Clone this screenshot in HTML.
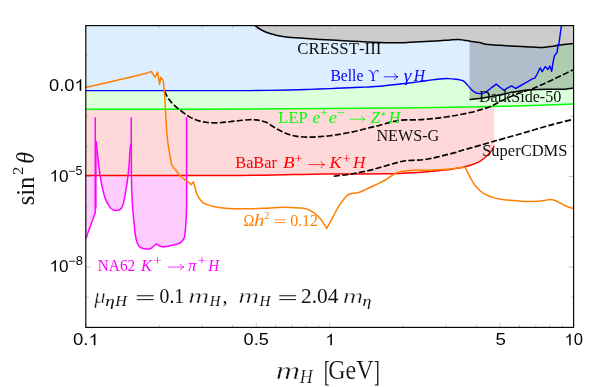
<!DOCTYPE html>
<html><head><meta charset="utf-8"><title>plot</title>
<style>
html,body{margin:0;padding:0;background:#fff;}
svg{display:block;}
</style></head><body>
<svg width="599" height="387" viewBox="0 0 599 387">
<rect x="0" y="0" width="599" height="387" fill="#fff"/>
<!-- fills -->
<path d="M85.80 109.30 L200.00 109.20 L330.00 108.60 L420.00 107.70 L494.00 106.60 L540.00 105.20 L573.60 104.00 L573.60 25.60 L85.80 25.60Z" fill="#dcffdc"/>
<path d="M85.80 90.60 C96.50 90.60 127.63 90.60 150.00 90.60 C172.37 90.60 203.33 90.60 220.00 90.60 C236.67 90.60 238.33 90.70 250.00 90.60 C261.67 90.50 280.00 90.20 290.00 90.00 C300.00 89.80 303.33 89.63 310.00 89.40 C316.67 89.17 323.33 88.87 330.00 88.60 C336.67 88.33 344.17 88.05 350.00 87.80 C355.83 87.55 360.00 87.37 365.00 87.10 C370.00 86.83 374.17 86.72 380.00 86.20 C385.83 85.68 393.33 84.77 400.00 84.00 C406.67 83.23 415.00 82.25 420.00 81.60 C425.00 80.95 426.67 80.53 430.00 80.10 C433.33 79.67 437.00 79.25 440.00 79.00 C443.00 78.75 445.33 78.57 448.00 78.60 C450.67 78.63 453.67 78.90 456.00 79.20 C458.33 79.50 461.00 80.20 462.00 80.40 L464.20 81.50 L466.00 83.20 L468.00 85.60 L470.30 88.40 L473.00 91.00 L475.50 92.70 L479.00 93.60 L482.00 93.60 L485.00 92.60 L488.40 90.30 L492.00 87.30 L496.20 84.10 L500.00 87.20 L503.90 90.30 L507.50 88.00 L511.70 85.90 L515.50 88.50 L520.00 86.00 L524.60 83.30 L528.50 81.20 L532.30 78.90 L534.90 78.10 L537.50 73.50 L540.10 67.80 L542.20 71.70 L545.30 66.50 L547.80 69.60 L549.90 66.00 L551.70 71.20 L553.00 63.00 L554.30 56.20 L556.10 53.60 L557.20 52.50 L558.00 44.40 L558.60 45.90 L559.40 40.50 L560.30 33.50 L561.40 25.60 L85.80 25.60 Z" fill="#ddeeff"/>
<path d="M85.80 175.60 L204 175.6 L204.00 175.60 C210.00 175.58 230.00 175.57 240.00 175.50 C250.00 175.43 255.00 175.35 264.00 175.20 C273.00 175.05 284.00 174.78 294.00 174.60 C304.00 174.42 314.00 174.18 324.00 174.10 C334.00 174.02 344.00 174.17 354.00 174.10 C364.00 174.03 376.33 173.82 384.00 173.70 C391.67 173.58 395.00 173.55 400.00 173.40 C405.00 173.25 409.00 173.10 414.00 172.80 C419.00 172.50 425.00 172.05 430.00 171.60 C435.00 171.15 440.17 170.55 444.00 170.10 C447.83 169.65 450.00 169.35 453.00 168.90 C456.00 168.45 459.12 168.00 462.00 167.40 C464.88 166.80 467.48 166.23 470.30 165.30 C473.12 164.37 476.53 163.02 478.90 161.80 C481.27 160.58 482.72 159.43 484.50 158.00 C486.28 156.57 488.30 154.60 489.60 153.20 C490.90 151.80 491.52 150.82 492.30 149.60 C493.08 148.38 493.97 146.52 494.30 145.90 L494.3 106.6 L494.00 106.60 L420.00 107.70 L330.00 108.60 L200.00 109.20 L85.80 109.30Z" fill="#ffd9d9"/>
<path d="M85.80 175.60 L95.20 175.60 L95.20 213.00 L85.80 238.50Z" fill="#ffccff"/>
<path d="M100.10 175.60 L102.20 187.00 L104.60 196.90 L107.50 203.40 L110.50 208.00 L113.50 210.00 L116.20 210.60 L119.00 210.10 L121.50 208.20 L123.50 203.20 L124.80 196.90 L126.60 186.00 L128.10 175.60Z" fill="#ffccff"/>
<path d="M131.50 175.60 L131.70 190.00 L132.20 201.00 L133.00 212.00 L133.90 221.50 L134.90 232.00 L136.00 238.50 L137.40 243.40 L139.20 246.40 L141.50 248.10 L145.50 249.00 L149.80 249.00 L152.50 247.30 L154.80 245.20 L156.40 243.80 L158.20 245.00 L160.50 246.30 L163.20 246.90 L168.00 246.30 L174.60 244.80 L178.00 243.80 L180.40 242.80 L182.50 240.80 L184.50 237.20 L185.60 228.00 L186.20 218.00 L186.60 205.00 L186.60 175.60Z" fill="#ffccff"/>
<path d="M469.50 99.60 C470.75 99.47 474.28 99.15 477.00 98.80 C479.72 98.45 482.30 98.10 485.80 97.50 C489.30 96.90 493.68 96.07 498.00 95.20 C502.32 94.33 508.03 93.02 511.70 92.30 C515.37 91.58 516.98 91.32 520.00 90.90 C523.02 90.48 526.80 90.05 529.80 89.80 C532.80 89.55 535.00 89.50 538.00 89.40 C541.00 89.30 544.80 89.23 547.80 89.20 C550.80 89.17 553.42 89.20 556.00 89.20 C558.58 89.20 561.30 89.28 563.30 89.20 C565.30 89.12 566.28 88.90 568.00 88.70 C569.72 88.50 572.67 88.12 573.60 88.00 L573.60 25.60 L469.5 25.60 Z" fill="#000" fill-opacity="0.2"/>
<path d="M255.00 25.60 C255.67 26.08 257.50 27.57 259.00 28.50 C260.50 29.43 262.17 30.37 264.00 31.20 C265.83 32.03 267.83 32.80 270.00 33.50 C272.17 34.20 274.33 34.83 277.00 35.40 C279.67 35.97 282.17 36.45 286.00 36.90 C289.83 37.35 294.33 37.68 300.00 38.10 C305.67 38.52 313.33 38.98 320.00 39.40 C326.67 39.82 333.33 40.23 340.00 40.60 C346.67 40.97 353.33 41.30 360.00 41.60 C366.67 41.90 373.33 42.22 380.00 42.40 C386.67 42.58 395.00 42.72 400.00 42.70 C405.00 42.68 406.67 42.45 410.00 42.30 C413.33 42.15 416.67 41.97 420.00 41.80 C423.33 41.63 426.67 41.48 430.00 41.30 C433.33 41.12 436.67 40.93 440.00 40.70 C443.33 40.47 446.90 40.12 450.00 39.90 C453.10 39.68 456.27 39.35 458.60 39.40 C460.93 39.45 462.10 39.90 464.00 40.20 C465.90 40.50 467.45 40.83 470.00 41.20 C472.55 41.57 476.88 41.95 479.30 42.40 C481.72 42.85 482.38 43.50 484.50 43.90 C486.62 44.30 489.42 44.57 492.00 44.80 C494.58 45.03 497.00 45.12 500.00 45.30 C503.00 45.48 506.33 45.68 510.00 45.90 C513.67 46.12 518.33 46.42 522.00 46.60 C525.67 46.78 528.55 46.87 532.00 47.00 C535.45 47.13 539.70 47.47 542.70 47.40 C545.70 47.33 547.42 46.95 550.00 46.60 C552.58 46.25 555.53 45.68 558.20 45.30 C560.87 44.92 563.43 44.62 566.00 44.30 C568.57 43.98 572.33 43.55 573.60 43.40 L573.60 25.60 Z" fill="#cccccc"/>
<!-- ticks -->
<g stroke="#b8b8b8" stroke-width="0.8" fill="none">
<line x1="85.80" y1="327.40" x2="85.80" y2="322.80"/>
<line x1="85.80" y1="25.60" x2="85.80" y2="30.20"/>
<line x1="159.22" y1="327.40" x2="159.22" y2="324.80"/>
<line x1="159.22" y1="25.60" x2="159.22" y2="28.20"/>
<line x1="202.17" y1="327.40" x2="202.17" y2="324.80"/>
<line x1="202.17" y1="25.60" x2="202.17" y2="28.20"/>
<line x1="232.64" y1="327.40" x2="232.64" y2="324.80"/>
<line x1="232.64" y1="25.60" x2="232.64" y2="28.20"/>
<line x1="256.28" y1="327.40" x2="256.28" y2="322.80"/>
<line x1="256.28" y1="25.60" x2="256.28" y2="30.20"/>
<line x1="275.59" y1="327.40" x2="275.59" y2="324.80"/>
<line x1="275.59" y1="25.60" x2="275.59" y2="28.20"/>
<line x1="291.92" y1="327.40" x2="291.92" y2="324.80"/>
<line x1="291.92" y1="25.60" x2="291.92" y2="28.20"/>
<line x1="306.06" y1="327.40" x2="306.06" y2="324.80"/>
<line x1="306.06" y1="25.60" x2="306.06" y2="28.20"/>
<line x1="318.54" y1="327.40" x2="318.54" y2="324.80"/>
<line x1="318.54" y1="25.60" x2="318.54" y2="28.20"/>
<line x1="329.70" y1="327.40" x2="329.70" y2="322.80"/>
<line x1="329.70" y1="25.60" x2="329.70" y2="30.20"/>
<line x1="403.12" y1="327.40" x2="403.12" y2="324.80"/>
<line x1="403.12" y1="25.60" x2="403.12" y2="28.20"/>
<line x1="446.07" y1="327.40" x2="446.07" y2="324.80"/>
<line x1="446.07" y1="25.60" x2="446.07" y2="28.20"/>
<line x1="476.54" y1="327.40" x2="476.54" y2="324.80"/>
<line x1="476.54" y1="25.60" x2="476.54" y2="28.20"/>
<line x1="500.18" y1="327.40" x2="500.18" y2="322.80"/>
<line x1="500.18" y1="25.60" x2="500.18" y2="30.20"/>
<line x1="519.49" y1="327.40" x2="519.49" y2="324.80"/>
<line x1="519.49" y1="25.60" x2="519.49" y2="28.20"/>
<line x1="535.82" y1="327.40" x2="535.82" y2="324.80"/>
<line x1="535.82" y1="25.60" x2="535.82" y2="28.20"/>
<line x1="549.96" y1="327.40" x2="549.96" y2="324.80"/>
<line x1="549.96" y1="25.60" x2="549.96" y2="28.20"/>
<line x1="562.44" y1="327.40" x2="562.44" y2="324.80"/>
<line x1="562.44" y1="25.60" x2="562.44" y2="28.20"/>
<line x1="85.80" y1="297.22" x2="88.80" y2="297.22"/>
<line x1="573.60" y1="297.22" x2="570.60" y2="297.22"/>
<line x1="85.80" y1="267.04" x2="90.80" y2="267.04"/>
<line x1="573.60" y1="267.04" x2="568.60" y2="267.04"/>
<line x1="85.80" y1="236.86" x2="88.80" y2="236.86"/>
<line x1="573.60" y1="236.86" x2="570.60" y2="236.86"/>
<line x1="85.80" y1="206.68" x2="88.80" y2="206.68"/>
<line x1="573.60" y1="206.68" x2="570.60" y2="206.68"/>
<line x1="85.80" y1="176.50" x2="90.80" y2="176.50"/>
<line x1="573.60" y1="176.50" x2="568.60" y2="176.50"/>
<line x1="85.80" y1="146.32" x2="88.80" y2="146.32"/>
<line x1="573.60" y1="146.32" x2="570.60" y2="146.32"/>
<line x1="85.80" y1="116.14" x2="88.80" y2="116.14"/>
<line x1="573.60" y1="116.14" x2="570.60" y2="116.14"/>
<line x1="85.80" y1="85.96" x2="90.80" y2="85.96"/>
<line x1="573.60" y1="85.96" x2="568.60" y2="85.96"/>
<line x1="85.80" y1="55.78" x2="88.80" y2="55.78"/>
<line x1="573.60" y1="55.78" x2="570.60" y2="55.78"/>
</g>
<!-- curves -->
<g fill="none" stroke-linejoin="round" stroke-linecap="butt">
<path d="M85.80 109.30 L200.00 109.20 L330.00 108.60 L420.00 107.70 L494.00 106.60 L540.00 105.20 L573.60 104.00" stroke="#00ff00" stroke-width="1.5"/>
<path d="M85.80 175.60 L204 175.6 L204.00 175.60 C210.00 175.58 230.00 175.57 240.00 175.50 C250.00 175.43 255.00 175.35 264.00 175.20 C273.00 175.05 284.00 174.78 294.00 174.60 C304.00 174.42 314.00 174.18 324.00 174.10 C334.00 174.02 344.00 174.17 354.00 174.10 C364.00 174.03 376.33 173.82 384.00 173.70 C391.67 173.58 395.00 173.55 400.00 173.40 C405.00 173.25 409.00 173.10 414.00 172.80 C419.00 172.50 425.00 172.05 430.00 171.60 C435.00 171.15 440.17 170.55 444.00 170.10 C447.83 169.65 450.00 169.35 453.00 168.90 C456.00 168.45 459.12 168.00 462.00 167.40 C464.88 166.80 467.48 166.23 470.30 165.30 C473.12 164.37 476.53 163.02 478.90 161.80 C481.27 160.58 482.72 159.43 484.50 158.00 C486.28 156.57 488.30 154.60 489.60 153.20 C490.90 151.80 491.52 150.82 492.30 149.60 C493.08 148.38 493.97 146.52 494.30 145.90" stroke="#ff0000" stroke-width="1.5"/>
<path d="M85.80 238.50 L95.20 213.00 L95.30 117.30 M95.9 141 L95.9 208.5" stroke="#ff00ff" stroke-width="1.5"/>
<path d="M95.90 141.00 L96.60 145.00 L97.60 155.00 L98.80 166.00 L100.10 175.60 L102.20 187.00 L104.60 196.90 L107.50 203.40 L110.50 208.00 L113.50 210.00 L116.20 210.60 L119.00 210.10 L121.50 208.20 L123.50 203.20 L124.80 196.90 L126.60 186.00 L128.10 175.60 L129.20 163.00 L130.10 148.40 L130.70 144.00" stroke="#ff00ff" stroke-width="1.5"/>
<path d="M131.20 117.30 L131.40 176.00 L131.70 190.00 L132.20 201.00 L133.00 212.00 L133.90 221.50 L134.90 232.00 L136.00 238.50 L137.40 243.40 L139.20 246.40 L141.50 248.10 L145.50 249.00 L149.80 249.00 L152.50 247.30 L154.80 245.20 L156.40 243.80 L158.20 245.00 L160.50 246.30 L163.20 246.90 L168.00 246.30 L174.60 244.80 L178.00 243.80 L180.40 242.80 L182.50 240.80 L184.50 237.20 L185.60 228.00 L186.20 218.00 L186.60 205.00 L186.60 176.00 L186.60 117.30" stroke="#ff00ff" stroke-width="1.5"/>
<path d="M469.50 99.60 C470.75 99.47 474.28 99.15 477.00 98.80 C479.72 98.45 482.30 98.10 485.80 97.50 C489.30 96.90 493.68 96.07 498.00 95.20 C502.32 94.33 508.03 93.02 511.70 92.30 C515.37 91.58 516.98 91.32 520.00 90.90 C523.02 90.48 526.80 90.05 529.80 89.80 C532.80 89.55 535.00 89.50 538.00 89.40 C541.00 89.30 544.80 89.23 547.80 89.20 C550.80 89.17 553.42 89.20 556.00 89.20 C558.58 89.20 561.30 89.28 563.30 89.20 C565.30 89.12 566.28 88.90 568.00 88.70 C569.72 88.50 572.67 88.12 573.60 88.00" stroke="#000" stroke-width="1.5"/>
<path d="M255.00 25.60 C255.67 26.08 257.50 27.57 259.00 28.50 C260.50 29.43 262.17 30.37 264.00 31.20 C265.83 32.03 267.83 32.80 270.00 33.50 C272.17 34.20 274.33 34.83 277.00 35.40 C279.67 35.97 282.17 36.45 286.00 36.90 C289.83 37.35 294.33 37.68 300.00 38.10 C305.67 38.52 313.33 38.98 320.00 39.40 C326.67 39.82 333.33 40.23 340.00 40.60 C346.67 40.97 353.33 41.30 360.00 41.60 C366.67 41.90 373.33 42.22 380.00 42.40 C386.67 42.58 395.00 42.72 400.00 42.70 C405.00 42.68 406.67 42.45 410.00 42.30 C413.33 42.15 416.67 41.97 420.00 41.80 C423.33 41.63 426.67 41.48 430.00 41.30 C433.33 41.12 436.67 40.93 440.00 40.70 C443.33 40.47 446.90 40.12 450.00 39.90 C453.10 39.68 456.27 39.35 458.60 39.40 C460.93 39.45 462.10 39.90 464.00 40.20 C465.90 40.50 467.45 40.83 470.00 41.20 C472.55 41.57 476.88 41.95 479.30 42.40 C481.72 42.85 482.38 43.50 484.50 43.90 C486.62 44.30 489.42 44.57 492.00 44.80 C494.58 45.03 497.00 45.12 500.00 45.30 C503.00 45.48 506.33 45.68 510.00 45.90 C513.67 46.12 518.33 46.42 522.00 46.60 C525.67 46.78 528.55 46.87 532.00 47.00 C535.45 47.13 539.70 47.47 542.70 47.40 C545.70 47.33 547.42 46.95 550.00 46.60 C552.58 46.25 555.53 45.68 558.20 45.30 C560.87 44.92 563.43 44.62 566.00 44.30 C568.57 43.98 572.33 43.55 573.60 43.40" stroke="#000" stroke-width="1.5"/>
<path d="M164.30 91.00 C164.92 92.17 166.72 96.00 168.00 98.00 C169.28 100.00 170.67 101.53 172.00 103.00 C173.33 104.47 174.67 105.63 176.00 106.80 C177.33 107.97 178.50 108.83 180.00 110.00 C181.50 111.17 183.33 112.62 185.00 113.80 C186.67 114.98 188.33 116.17 190.00 117.10 C191.67 118.03 193.33 118.73 195.00 119.40 C196.67 120.07 198.33 120.65 200.00 121.10 C201.67 121.55 203.33 121.83 205.00 122.10 C206.67 122.37 207.50 122.60 210.00 122.70 C212.50 122.80 216.67 122.87 220.00 122.70 C223.33 122.53 226.67 122.07 230.00 121.70 C233.33 121.33 236.67 120.83 240.00 120.50 C243.33 120.17 247.33 119.80 250.00 119.70 C252.67 119.60 254.33 119.77 256.00 119.90 C257.67 120.03 258.30 120.12 260.00 120.50 C261.70 120.88 264.53 121.52 266.20 122.20 C267.87 122.88 268.53 123.67 270.00 124.60 C271.47 125.53 273.33 126.80 275.00 127.80 C276.67 128.80 278.33 129.73 280.00 130.60 C281.67 131.47 283.33 132.30 285.00 133.00 C286.67 133.70 288.33 134.30 290.00 134.80 C291.67 135.30 293.33 135.68 295.00 136.00 C296.67 136.32 297.50 136.52 300.00 136.70 C302.50 136.88 306.67 137.12 310.00 137.10 C313.33 137.08 316.67 136.83 320.00 136.60 C323.33 136.37 326.67 136.10 330.00 135.70 C333.33 135.30 336.67 134.75 340.00 134.20 C343.33 133.65 346.67 133.07 350.00 132.40 C353.33 131.73 356.67 131.00 360.00 130.20 C363.33 129.40 366.67 128.43 370.00 127.60 C373.33 126.77 376.67 126.07 380.00 125.20 C383.33 124.33 386.93 123.18 390.00 122.40 C393.07 121.62 395.57 120.92 398.40 120.50 C401.23 120.08 403.95 120.02 407.00 119.90 C410.05 119.78 413.53 119.90 416.70 119.80 C419.87 119.70 422.93 119.53 426.00 119.30 C429.07 119.07 432.10 118.75 435.10 118.40 C438.10 118.05 440.93 117.63 444.00 117.20 C447.07 116.77 450.50 116.30 453.50 115.80 C456.50 115.30 458.95 114.80 462.00 114.20 C465.05 113.60 468.63 112.97 471.80 112.20 C474.97 111.43 477.97 110.52 481.00 109.60 C484.03 108.68 487.67 107.58 490.00 106.70 C492.33 105.82 493.13 105.27 495.00 104.30 C496.87 103.33 499.03 102.00 501.20 100.90 C503.37 99.80 505.55 98.80 508.00 97.70 C510.45 96.60 513.07 95.40 515.90 94.30 C518.73 93.20 521.93 92.17 525.00 91.10 C528.07 90.03 531.30 89.05 534.30 87.90 C537.30 86.75 539.95 85.57 543.00 84.20 C546.05 82.83 549.43 81.20 552.60 79.70 C555.77 78.20 558.78 76.75 562.00 75.20 C565.22 73.65 569.97 71.33 571.90 70.40 C573.83 69.47 573.32 69.73 573.60 69.60" stroke="#000" stroke-width="1.65" stroke-dasharray="6.2 2.3"/>
<path d="M333.70 176.20 C335.87 175.95 342.82 175.25 346.70 174.70 C350.58 174.15 353.38 173.58 357.00 172.90 C360.62 172.22 364.73 171.45 368.40 170.60 C372.07 169.75 375.38 168.82 379.00 167.80 C382.62 166.78 386.93 165.42 390.10 164.50 C393.27 163.58 395.47 162.92 398.00 162.30 C400.53 161.68 402.63 161.15 405.30 160.80 C407.97 160.45 411.10 160.37 414.00 160.20 C416.90 160.03 420.03 160.07 422.70 159.80 C425.37 159.53 427.48 159.08 430.00 158.60 C432.52 158.12 435.13 157.52 437.80 156.90 C440.47 156.28 443.13 155.62 446.00 154.90 C448.87 154.18 452.67 153.25 455.00 152.60 C457.33 151.95 456.92 151.90 460.00 151.00 C463.08 150.10 467.90 148.80 473.50 147.20 C479.10 145.60 489.18 142.67 493.60 141.40 C498.02 140.13 494.83 141.07 500.00 139.60 C505.17 138.13 516.20 135.02 524.60 132.60 C533.00 130.18 542.23 127.33 550.40 125.10 C558.57 122.87 569.73 120.18 573.60 119.20" stroke="#000" stroke-width="1.65" stroke-dasharray="6.2 2.3"/>
<path d="M85.80 90.60 C96.50 90.60 127.63 90.60 150.00 90.60 C172.37 90.60 203.33 90.60 220.00 90.60 C236.67 90.60 238.33 90.70 250.00 90.60 C261.67 90.50 280.00 90.20 290.00 90.00 C300.00 89.80 303.33 89.63 310.00 89.40 C316.67 89.17 323.33 88.87 330.00 88.60 C336.67 88.33 344.17 88.05 350.00 87.80 C355.83 87.55 360.00 87.37 365.00 87.10 C370.00 86.83 374.17 86.72 380.00 86.20 C385.83 85.68 393.33 84.77 400.00 84.00 C406.67 83.23 415.00 82.25 420.00 81.60 C425.00 80.95 426.67 80.53 430.00 80.10 C433.33 79.67 437.00 79.25 440.00 79.00 C443.00 78.75 445.33 78.57 448.00 78.60 C450.67 78.63 453.67 78.90 456.00 79.20 C458.33 79.50 461.00 80.20 462.00 80.40 L464.20 81.50 L466.00 83.20 L468.00 85.60 L470.30 88.40 L473.00 91.00 L475.50 92.70 L479.00 93.60 L482.00 93.60 L485.00 92.60 L488.40 90.30 L492.00 87.30 L496.20 84.10 L500.00 87.20 L503.90 90.30 L507.50 88.00 L511.70 85.90 L515.50 88.50 L520.00 86.00 L524.60 83.30 L528.50 81.20 L532.30 78.90 L534.90 78.10 L537.50 73.50 L540.10 67.80 L542.20 71.70 L545.30 66.50 L547.80 69.60 L549.90 66.00 L551.70 71.20 L553.00 63.00 L554.30 56.20 L556.10 53.60 L557.20 52.50 L558.00 44.40 L558.60 45.90 L559.40 40.50 L560.30 33.50 L561.40 25.60" stroke="#0000ff" stroke-width="1.45"/>
<path d="M85.80 87.60 L130.00 77.20 L147.50 72.90 L151.20 71.50 L155.10 77.20 L157.60 72.10 L159.60 84.20 L160.90 77.20 L163.30 80.80 L164.60 95.00 L165.60 112.00 L166.30 125.00 L166.30 125.00 C166.45 127.00 166.83 133.33 167.20 137.00 C167.57 140.67 168.00 143.67 168.50 147.00 C169.00 150.33 169.68 154.13 170.20 157.00 C170.72 159.87 171.05 162.45 171.60 164.20 C172.15 165.95 172.83 166.53 173.50 167.50 C174.17 168.47 174.77 168.95 175.60 170.00 C176.43 171.05 177.47 172.60 178.50 173.80 C179.53 175.00 180.63 176.17 181.80 177.20 C182.97 178.23 184.28 179.10 185.50 180.00 C186.72 180.90 188.50 182.17 189.10 182.60 L189.10 182.60 L191.30 184.60 L193.20 181.80 L194.70 186.20 L196.30 192.70 L196.30 192.70 C196.63 193.38 197.62 195.58 198.30 196.80 C198.98 198.02 199.53 199.00 200.40 200.00 C201.27 201.00 202.27 201.98 203.50 202.80 C204.73 203.62 205.88 204.23 207.80 204.90 C209.72 205.57 211.98 206.23 215.00 206.80 C218.02 207.37 221.73 207.97 225.90 208.30 C230.07 208.63 235.70 208.72 240.00 208.80 C244.30 208.88 247.53 208.90 251.70 208.80 C255.87 208.70 260.68 208.42 265.00 208.20 C269.32 207.98 273.43 207.63 277.60 207.50 C281.77 207.37 285.70 207.27 290.00 207.40 C294.30 207.53 300.23 207.87 303.40 208.30 C306.57 208.73 307.27 209.27 309.00 210.00 C310.73 210.73 312.30 211.67 313.80 212.70 C315.30 213.73 316.72 214.92 318.00 216.20 C319.28 217.48 320.42 218.93 321.50 220.40 C322.58 221.87 323.63 223.67 324.50 225.00 C325.37 226.33 326.33 227.83 326.70 228.40 L326.70 228.40 C327.17 227.58 328.63 225.05 329.50 223.50 C330.37 221.95 331.28 220.27 331.90 219.10 C332.52 217.93 332.52 217.85 333.20 216.50 C333.88 215.15 334.93 212.93 336.00 211.00 C337.07 209.07 338.27 206.90 339.60 204.90 C340.93 202.90 342.77 200.55 344.00 199.00 C345.23 197.45 345.95 196.47 347.00 195.60 C348.05 194.73 349.13 194.20 350.30 193.80 C351.47 193.40 352.70 193.37 354.00 193.20 C355.30 193.03 356.77 193.12 358.10 192.80 C359.43 192.48 360.70 191.87 362.00 191.30 C363.30 190.73 364.23 190.20 365.90 189.40 C367.57 188.60 369.85 187.50 372.00 186.50 C374.15 185.50 376.57 184.48 378.80 183.40 C381.03 182.32 383.25 181.28 385.40 180.00 C387.55 178.72 389.93 176.83 391.70 175.70 C393.47 174.57 394.38 173.88 396.00 173.20 C397.62 172.52 399.53 172.00 401.40 171.60 C403.27 171.20 405.37 171.02 407.20 170.80 C409.03 170.58 410.25 170.42 412.40 170.30 C414.55 170.18 417.52 170.12 420.10 170.10 C422.68 170.08 425.25 170.25 427.90 170.20 C430.55 170.15 433.42 169.93 436.00 169.80 C438.58 169.67 441.23 169.50 443.40 169.40 C445.57 169.30 446.83 169.38 449.00 169.20 C451.17 169.02 454.40 168.57 456.40 168.30 C458.40 168.03 459.60 167.82 461.00 167.60 C462.40 167.38 464.17 167.10 464.80 167.00 L464.80 167.00 C465.03 167.42 465.63 168.42 466.20 169.50 C466.77 170.58 467.48 172.08 468.20 173.50 C468.92 174.92 469.63 176.45 470.50 178.00 C471.37 179.55 472.40 181.30 473.40 182.80 C474.40 184.30 475.40 185.68 476.50 187.00 C477.60 188.32 478.75 189.60 480.00 190.70 C481.25 191.80 482.70 192.82 484.00 193.60 C485.30 194.38 486.22 194.73 487.80 195.40 C489.38 196.07 491.35 196.97 493.50 197.60 C495.65 198.23 498.45 198.80 500.70 199.20 C502.95 199.60 504.85 199.77 507.00 200.00 C509.15 200.23 511.43 200.42 513.60 200.60 C515.77 200.78 517.83 200.95 520.00 201.10 C522.17 201.25 524.43 201.43 526.60 201.50 C528.77 201.57 531.07 201.53 533.00 201.50 C534.93 201.47 536.37 201.45 538.20 201.30 C540.03 201.15 542.05 200.90 544.00 200.60 C545.95 200.30 548.07 199.52 549.90 199.50 C551.73 199.48 553.32 199.92 555.00 200.50 C556.68 201.08 558.27 202.13 560.00 203.00 C561.73 203.87 563.13 204.72 565.40 205.70 C567.67 206.68 572.23 208.37 573.60 208.90" stroke="#ff8000" stroke-width="1.5"/>
</g>
<!-- frame -->
<rect x="85.8" y="25.6" width="487.80" height="301.80" fill="none" stroke="#000" stroke-width="1.15"/>
<g style="font-kerning:none" opacity="0.999">
<g transform="translate(48.98,90.80) scale(1.1455,1)" fill="#000"><text x="0.00" y="0" font-family='"Liberation Sans",sans-serif' font-size="16.00">0.0</text><path d="M28.21 0.00 L26.80 0.00 L26.80 -8.96 L26.24 -8.45 L25.36 -7.87 L24.56 -7.41 L24.00 -7.17 L24.00 -8.53 L25.12 -9.07 L26.00 -9.81 L26.88 -10.59 L27.30 -11.46 L28.21 -11.46Z"/></g>
<g transform="translate(49.52,181.50) scale(1.0706,1)" fill="#000"><path d="M5.97 0.00 L4.56 0.00 L4.56 -8.96 L4.00 -8.45 L3.12 -7.87 L2.32 -7.41 L1.76 -7.17 L1.76 -8.53 L2.88 -9.07 L3.76 -9.81 L4.64 -10.59 L5.06 -11.46 L5.97 -11.46Z"/><text x="8.90" y="0" font-family='"Liberation Sans",sans-serif' font-size="16.00">0</text></g>
<text transform="translate(68.18,175.30) scale(1.0408,1.0000)" font-family='"Liberation Sans",sans-serif' font-size="12.00" fill="#000">−5</text>
<g transform="translate(49.52,271.60) scale(1.0706,1)" fill="#000"><path d="M5.97 0.00 L4.56 0.00 L4.56 -8.96 L4.00 -8.45 L3.12 -7.87 L2.32 -7.41 L1.76 -7.17 L1.76 -8.53 L2.88 -9.07 L3.76 -9.81 L4.64 -10.59 L5.06 -11.46 L5.97 -11.46Z"/><text x="8.90" y="0" font-family='"Liberation Sans",sans-serif' font-size="16.00">0</text></g>
<text transform="translate(68.16,265.40) scale(1.0821,1.0000)" font-family='"Liberation Sans",sans-serif' font-size="12.00" fill="#000">−8</text>
<g transform="translate(73.08,345.20) scale(1.1559,1)" fill="#000"><text x="0.00" y="0" font-family='"Liberation Sans",sans-serif' font-size="16.00">0.</text><path d="M19.31 0.00 L17.90 0.00 L17.90 -8.96 L17.34 -8.45 L16.46 -7.87 L15.66 -7.41 L15.10 -7.17 L15.10 -8.53 L16.22 -9.07 L17.10 -9.81 L17.98 -10.59 L18.40 -11.46 L19.31 -11.46Z"/></g>
<text transform="translate(243.59,345.20) scale(1.1363,1.0000)" font-family='"Liberation Sans",sans-serif' font-size="16.00" fill="#000">0.5</text>
<g transform="translate(325.38,345.20) scale(1.0932,1)" fill="#000"><path d="M5.97 0.00 L4.56 0.00 L4.56 -8.96 L4.00 -8.45 L3.12 -7.87 L2.32 -7.41 L1.76 -7.17 L1.76 -8.53 L2.88 -9.07 L3.76 -9.81 L4.64 -10.59 L5.06 -11.46 L5.97 -11.46Z"/></g>
<text transform="translate(495.55,345.20) scale(1.1732,1.0000)" font-family='"Liberation Sans",sans-serif' font-size="16.00" fill="#000">5</text>
<g transform="translate(564.47,345.20) scale(1.0382,1)" fill="#000"><path d="M5.97 0.00 L4.56 0.00 L4.56 -8.96 L4.00 -8.45 L3.12 -7.87 L2.32 -7.41 L1.76 -7.17 L1.76 -8.53 L2.88 -9.07 L3.76 -9.81 L4.64 -10.59 L5.06 -11.46 L5.97 -11.46Z"/><text x="8.90" y="0" font-family='"Liberation Sans",sans-serif' font-size="16.00">0</text></g>
<g transform="translate(33.6,204.6) rotate(-90)"><text transform="translate(-0.71,0.00) scale(0.9830,1.0000)" font-family='"Liberation Serif",serif' font-size="25.00" fill="#111">sin</text><text transform="translate(29.57,-10.40) scale(1.1142,1.0000)" font-family='"Liberation Serif",serif' font-size="15.00" fill="#111">2</text><text transform="translate(40.83,0.00) scale(0.9548,1.0000)" font-family='"Liberation Serif",serif' font-size="25.00" font-style="italic" fill="#111">θ</text></g>
<text transform="translate(275.78,378.60) scale(1.3019,1.0000)" font-family='"Liberation Serif",serif' font-size="26.00" font-style="italic" stroke="#fff" stroke-width="0.45" paint-order="fill stroke" fill="#111">m</text>
<text transform="translate(299.79,382.90) scale(0.9999,1.0000)" font-family='"Liberation Serif",serif' font-size="18.00" font-style="italic" stroke="#fff" stroke-width="0.25" paint-order="fill stroke" fill="#111">H</text>
<text transform="translate(323.97,380.60) scale(0.6391,1.1440)" font-family='"Liberation Serif",serif' font-size="26.00" fill="#111">[</text>
<text transform="translate(328.22,378.70) scale(0.9010,1.0000)" font-family='"Liberation Serif",serif' font-size="26.60" stroke="#fff" stroke-width="0.15" paint-order="fill stroke" fill="#111">GeV</text>
<text transform="translate(373.88,380.60) scale(0.6564,1.1440)" font-family='"Liberation Serif",serif' font-size="26.00" fill="#111">]</text>
<text transform="translate(94.32,302.60) scale(1.1112,1.0000)" font-family='"Liberation Serif",serif' font-size="20.50" font-style="italic" stroke="#fff" stroke-width="0.40" paint-order="fill stroke" fill="#111">μ</text>
<text transform="translate(105.32,305.90) scale(1.3169,1.0000)" font-family='"Liberation Serif",serif' font-size="14.50" font-style="italic" fill="#111">η</text>
<text transform="translate(115.17,305.90) scale(1.1172,1.0000)" font-family='"Liberation Serif",serif' font-size="14.50" font-style="italic" fill="#111">H</text>
<path d="M136.80 295.75 H153.60 M136.80 299.65 H153.60" stroke="#111" stroke-width="1.00" fill="none"/>
<text transform="translate(159.55,302.60) scale(0.9854,1.0000)" font-family='"Liberation Serif",serif' font-size="20.00" fill="#111">0.1</text>
<text transform="translate(188.35,302.60) scale(1.4239,1.0000)" font-family='"Liberation Serif",serif' font-size="20.50" font-style="italic" stroke="#fff" stroke-width="0.40" paint-order="fill stroke" fill="#111">m</text>
<text transform="translate(209.66,305.90) scale(1.0108,1.0000)" font-family='"Liberation Serif",serif' font-size="14.50" font-style="italic" fill="#111">H</text>
<text transform="translate(222.43,302.60) scale(0.9826,1.0000)" font-family='"Liberation Serif",serif' font-size="20.50" fill="#111">,</text>
<text transform="translate(238.25,302.60) scale(1.4164,1.0000)" font-family='"Liberation Serif",serif' font-size="20.50" font-style="italic" stroke="#fff" stroke-width="0.40" paint-order="fill stroke" fill="#111">m</text>
<text transform="translate(259.46,305.90) scale(1.0462,1.0000)" font-family='"Liberation Serif",serif' font-size="14.50" font-style="italic" fill="#111">H</text>
<path d="M279.30 295.75 H296.10 M279.30 299.65 H296.10" stroke="#111" stroke-width="1.00" fill="none"/>
<text transform="translate(301.06,302.60) scale(1.0707,1.0000)" font-family='"Liberation Serif",serif' font-size="20.00" fill="#111">2.04</text>
<text transform="translate(342.67,302.60) scale(1.3861,1.0000)" font-family='"Liberation Serif",serif' font-size="20.50" font-style="italic" stroke="#fff" stroke-width="0.40" paint-order="fill stroke" fill="#111">m</text>
<text transform="translate(362.56,305.90) scale(1.2346,1.0000)" font-family='"Liberation Serif",serif' font-size="14.50" font-style="italic" fill="#111">η</text>
<text transform="translate(297.31,54.00) scale(1.0576,1.0000)" font-family='"Liberation Serif",serif' font-size="15.90" fill="#111">CRESST-III</text>
<text transform="translate(330.45,80.75) scale(0.9802,1.0000)" font-family='"Liberation Serif",serif' font-size="15.90" fill="#0000ff">Belle</text>
<text transform="translate(367.90,80.75) scale(0.8935,1.0000)" font-family='"Liberation Serif",serif' font-size="15.90" fill="#0000ff">ϒ</text>
<g fill="none" stroke="#0000ff" stroke-width="0.80" stroke-linecap="round" stroke-linejoin="round"><path d="M384.20 76.80 H397.70"/><path d="M394.60 73.90 C395.20 75.49 396.47 76.45 398.00 76.80 C396.47 77.15 395.20 78.11 394.60 79.70"/></g>
<text transform="translate(403.75,80.75) scale(1.2327,1.0000)" font-family='"Liberation Serif",serif' font-size="15.90" font-style="italic" fill="#0000ff">γ</text>
<text transform="translate(413.87,80.75) scale(0.9784,1.0000)" font-family='"Liberation Serif",serif' font-size="15.90" font-style="italic" fill="#0000ff">H</text>
<text transform="translate(278.32,122.50) scale(1.0378,1.0000)" font-family='"Liberation Serif",serif' font-size="15.90" fill="#00ff00">LEP</text>
<text transform="translate(312.56,122.50) scale(1.1109,1.0000)" font-family='"Liberation Serif",serif' font-size="15.90" font-style="italic" fill="#00ff00">e</text>
<text transform="translate(320.23,117.20) scale(1.0414,1.0000)" font-family='"Liberation Serif",serif' font-size="13.00" fill="#00ff00">+</text>
<text transform="translate(328.73,122.50) scale(1.1592,1.0000)" font-family='"Liberation Serif",serif' font-size="15.90" font-style="italic" fill="#00ff00">e</text>
<text transform="translate(336.93,117.20) scale(1.0414,1.0000)" font-family='"Liberation Serif",serif' font-size="13.00" fill="#00ff00">−</text>
<g fill="none" stroke="#00ff00" stroke-width="0.80" stroke-linecap="round" stroke-linejoin="round"><path d="M350.00 119.20 H364.80"/><path d="M361.70 116.30 C362.30 117.89 363.57 118.85 365.10 119.20 C363.57 119.55 362.30 120.51 361.70 122.10"/></g>
<text transform="translate(370.79,122.50) scale(1.0591,1.0000)" font-family='"Liberation Serif",serif' font-size="15.90" font-style="italic" fill="#00ff00">Z</text>
<text transform="translate(381.12,118.90) scale(0.9016,1.0000)" font-family='"Liberation Serif",serif' font-size="11.00" fill="#00ff00">*</text>
<text transform="translate(388.77,122.50) scale(1.0026,1.0000)" font-family='"Liberation Serif",serif' font-size="15.90" font-style="italic" fill="#00ff00">H</text>
<text transform="translate(376.43,141.40) scale(1.0170,1.0000)" font-family='"Liberation Serif",serif' font-size="15.90" fill="#111">NEWS-G</text>
<text transform="translate(235.33,168.20) scale(1.0219,1.0000)" font-family='"Liberation Serif",serif' font-size="15.90" fill="#ff0000">BaBar</text>
<text transform="translate(283.12,168.20) scale(1.1936,1.0000)" font-family='"Liberation Serif",serif' font-size="15.90" font-style="italic" fill="#ff0000">B</text>
<text transform="translate(294.56,162.90) scale(1.1406,1.0000)" font-family='"Liberation Serif",serif' font-size="13.00" fill="#ff0000">+</text>
<g fill="none" stroke="#ff0000" stroke-width="0.80" stroke-linecap="round" stroke-linejoin="round"><path d="M309.00 164.60 H324.30"/><path d="M321.20 161.70 C321.80 163.29 323.07 164.25 324.60 164.60 C323.07 164.95 321.80 165.91 321.20 167.50"/></g>
<text transform="translate(329.51,168.20) scale(1.1242,1.0000)" font-family='"Liberation Serif",serif' font-size="15.90" font-style="italic" fill="#ff0000">K</text>
<text transform="translate(342.45,162.90) scale(1.1572,1.0000)" font-family='"Liberation Serif",serif' font-size="13.00" fill="#ff0000">+</text>
<text transform="translate(352.88,168.20) scale(1.0754,1.0000)" font-family='"Liberation Serif",serif' font-size="15.90" font-style="italic" fill="#ff0000">H</text>
<text transform="translate(478.93,102.20) scale(1.0152,1.0000)" font-family='"Liberation Serif",serif' font-size="15.90" fill="#111">DarkSide-50</text>
<text transform="translate(482.20,156.30) scale(1.0373,1.0000)" font-family='"Liberation Serif",serif' font-size="15.90" fill="#111">SuperCDMS</text>
<text transform="translate(243.54,225.80) scale(0.9242,1.0000)" font-family='"Liberation Serif",serif' font-size="15.90" fill="#ff8000">Ω</text>
<text transform="translate(254.05,225.80) scale(1.3104,1.0000)" font-family='"Liberation Serif",serif' font-size="15.90" font-style="italic" fill="#ff8000">h</text>
<text transform="translate(264.25,218.80) scale(0.9741,1.0000)" font-family='"Liberation Serif",serif' font-size="10.50" fill="#ff8000">2</text>
<path d="M274.80 219.80 H285.30 M274.80 222.60 H285.30" stroke="#ff8000" stroke-width="0.85" fill="none"/>
<text transform="translate(290.20,225.80) scale(0.9984,1.0000)" font-family='"Liberation Serif",serif' font-size="15.90" fill="#ff8000">0.12</text>
<text transform="translate(97.76,270.70) scale(0.9646,1.0000)" font-family='"Liberation Serif",serif' font-size="15.90" fill="#ff00ff">NA62</text>
<text transform="translate(141.09,270.70) scale(1.0196,1.0000)" font-family='"Liberation Serif",serif' font-size="15.90" font-style="italic" fill="#ff00ff">K</text>
<text transform="translate(153.02,265.40) scale(1.2067,1.0000)" font-family='"Liberation Serif",serif' font-size="13.00" fill="#ff00ff">+</text>
<g fill="none" stroke="#ff00ff" stroke-width="0.80" stroke-linecap="round" stroke-linejoin="round"><path d="M168.30 267.10 H183.60"/><path d="M180.50 264.20 C181.10 265.80 182.37 266.75 183.90 267.10 C182.37 267.45 181.10 268.41 180.50 270.00"/></g>
<text transform="translate(188.11,270.70) scale(1.0673,1.0000)" font-family='"Liberation Serif",serif' font-size="15.90" font-style="italic" fill="#ff00ff">π</text>
<text transform="translate(197.42,265.40) scale(1.2067,1.0000)" font-family='"Liberation Serif",serif' font-size="13.00" fill="#ff00ff">+</text>
<text transform="translate(208.16,270.70) scale(0.9460,1.0000)" font-family='"Liberation Serif",serif' font-size="15.90" font-style="italic" fill="#ff00ff">H</text>
</g>
</svg>
</body></html>
